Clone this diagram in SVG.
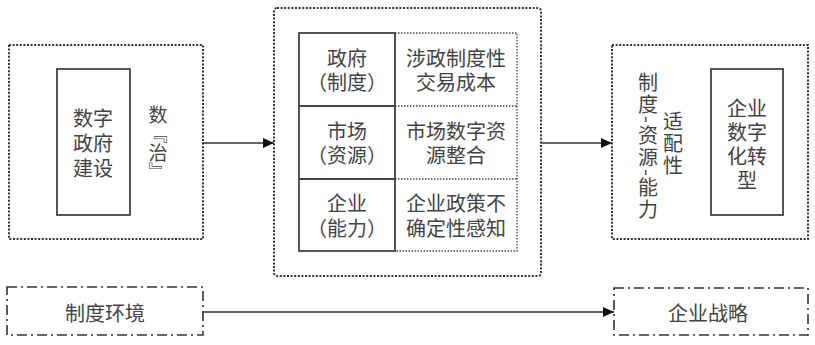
<svg xmlns="http://www.w3.org/2000/svg" width="815" height="345" viewBox="0 0 815 345">
<style>
  .dot{fill:none;stroke:#333;stroke-width:2;stroke-dasharray:2 1.6}
  .dotthin{fill:none;stroke:#444;stroke-width:1.3;stroke-dasharray:1.5 1.5}
  .solid{fill:none;stroke:#444;stroke-width:1.8}
  .dashdot{fill:none;stroke:#333;stroke-width:1.6;stroke-dasharray:10 4 2 4}
  .t{font-family:"Noto Sans CJK SC","Noto Sans CJK TC",sans-serif;font-size:20px;fill:#444;text-anchor:middle;dominant-baseline:central}
  .v{font-family:"Noto Sans CJK SC","Noto Sans CJK TC",sans-serif;font-size:20px;fill:#444;writing-mode:vertical-rl}
  .line{stroke:#333;stroke-width:1.6;fill:none}
</style>
<defs>
  <marker id="arr" markerWidth="11" markerHeight="10" refX="11" refY="5" orient="auto" markerUnits="userSpaceOnUse">
    <path d="M0,0 L11,5 L0,10 Z" fill="#111"/>
  </marker>
</defs>
<g id="node-left">
  <rect class="dot" x="9" y="45" width="194" height="194"/>
  <rect class="solid" x="57" y="69" width="73" height="146"/>
  <text class="t" x="93" y="117">数字<tspan x="93" dy="25">政府</tspan><tspan x="93" dy="25">建设</tspan></text>
  <text class="v" x="158" y="105" style="font-size:19px">数『治』</text>
</g>
<g id="node-middle">
  <rect class="dot" x="274" y="8" width="267" height="268" rx="3"/>
  <rect class="dotthin" x="395" y="33" width="122" height="218"/>
  <line class="dotthin" x1="395" y1="106" x2="517" y2="106"/>
  <line class="dotthin" x1="395" y1="179" x2="517" y2="179"/>
  <rect class="solid" x="299" y="33" width="96" height="218"/>
  <line class="solid" x1="299" y1="106" x2="395" y2="106"/>
  <line class="solid" x1="299" y1="179" x2="395" y2="179"/>
  <text class="t" x="347" y="57">政府<tspan x="347" dy="24">（制度）</tspan></text>
  <text class="t" x="347" y="130">市场<tspan x="347" dy="24">（资源）</tspan></text>
  <text class="t" x="347" y="202">企业<tspan x="347" dy="25">（能力）</tspan></text>
  <text class="t" x="456" y="57">涉政制度性<tspan x="456" dy="24">交易成本</tspan></text>
  <text class="t" x="456" y="130">市场数字资<tspan x="456" dy="24">源整合</tspan></text>
  <text class="t" x="456" y="202">企业政策不<tspan x="456" dy="25">确定性感知</tspan></text>
</g>
<g id="node-right">
  <rect class="dot" x="612" y="45" width="196" height="194"/>
  <rect class="solid" x="711" y="69" width="72" height="146"/>
  <text class="v" x="648" y="72" style="letter-spacing:2px">制度-资源-能力</text>
  <text class="v" x="673" y="111" style="letter-spacing:2px">适配性</text>
  <text class="t" x="747" y="107">企业<tspan x="747" dy="24">数字</tspan><tspan x="747" dy="24">化转</tspan><tspan x="747" dy="24">型</tspan></text>
</g>
<g id="node-env">
  <rect class="dashdot" x="7" y="287" width="196" height="48"/>
  <text class="t" x="105" y="312">制度环境</text>
</g>
<g id="node-strategy">
  <rect class="dashdot" x="614" y="288" width="194" height="47"/>
  <text class="t" x="708" y="312">企业战略</text>
</g>
<g id="connectors">
  <line class="line" x1="203" y1="143" x2="274" y2="143" marker-end="url(#arr)"/>
  <line class="line" x1="541" y1="143" x2="612" y2="143" marker-end="url(#arr)"/>
  <line class="line" x1="203" y1="312" x2="614" y2="312" marker-end="url(#arr)"/>
</g>
</svg>
